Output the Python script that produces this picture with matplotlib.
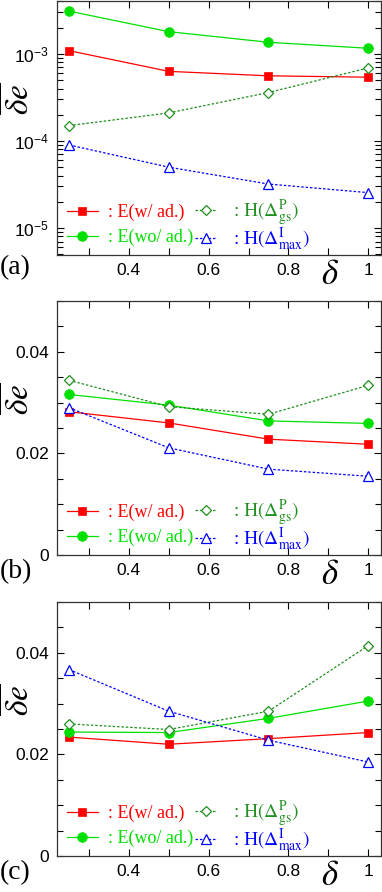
import matplotlib
matplotlib.use("Agg")
import matplotlib.pyplot as plt
from matplotlib.ticker import FixedLocator, MultipleLocator, LogLocator, NullFormatter

# =====================================================
# DATA
# =====================================================

delta = [0.25, 0.5, 0.75, 1.0]

# (a) log scale
a_e_ad = [1.09e-3, 6.3e-4, 5.6e-4, 5.4e-4]
a_e_woad = [3.1e-3, 1.8e-3, 1.36e-3, 1.16e-3]
a_h_gs = [1.5e-4, 2.1e-4, 3.6e-4, 6.9e-4]
a_h_max = [9.0e-5, 5.0e-5, 3.2e-5, 2.55e-5]

# (b)
b_e_ad = [0.0282, 0.0260, 0.0228, 0.0218]
b_e_woad = [0.0316, 0.0295, 0.0264, 0.0259]
b_h_gs = [0.0344, 0.0292, 0.0277, 0.0334]
b_h_max = [0.0290, 0.0211, 0.0169, 0.0155]

# (c)
c_e_ad = [0.0234, 0.0220, 0.0231, 0.0243]
c_e_woad = [0.0244, 0.0243, 0.0271, 0.0305]
c_h_gs = [0.0260, 0.0249, 0.0285, 0.0414]
c_h_max = [0.0367, 0.0285, 0.0228, 0.0185]

x_ticks = [0.3, 0.4, 0.5, 0.6, 0.7, 0.8, 0.9, 1.0]
x_ticklabels = ["", "0.4", "", "0.6", "", "0.8", "", "1"]

labels_e = [r": E(w/ ad.)", r": E(wo/ ad.)"]
labels_h = [r": H$(\Delta^{\rm P}_{\rm gs})$", r": H$(\Delta^{\rm I}_{\rm max})$"]

# =====================================================
# STYLE
# =====================================================

plt.rcParams["font.family"] = ["Liberation Sans", "DejaVu Sans"]
plt.rcParams["mathtext.fontset"] = "stix"

RED = "#ff0000"
GREEN = "#00e000"
DKGREEN = "#1f8f1f"
BLUE = "#0000ff"

fig = plt.figure(figsize=(3.82, 8.92), dpi=100)

W = 324 / 382
L = 57 / 382
H = 254 / 892
ax_a = fig.add_axes([L, 1 - 255 / 892, W, H])
ax_b = fig.add_axes([L, 1 - 555 / 892, W, H])
ax_c = fig.add_axes([L, 1 - 856 / 892, W, H])

E_FONT = {"family": "Liberation Serif", "size": 13}
H_FONT = {"family": "Liberation Serif", "size": 14}


def draw(ax, e_ad, e_woad, h_gs, h_max):
    l1, = ax.plot(delta, e_ad, "-", color=RED, lw=0.9, marker="s", ms=6,
                  mfc=RED, mec=RED, mew=0.5)
    l2, = ax.plot(delta, e_woad, "-", color=GREEN, lw=0.9, marker="o", ms=7,
                  mfc=GREEN, mec=GREEN, mew=0.5)
    l3, = ax.plot(delta, h_gs, color=DKGREEN, lw=0.9, ls=(0, (2, 1.5)),
                  marker="D", ms=5, mfc="white", mec=DKGREEN, mew=0.9)
    l4, = ax.plot(delta, h_max, color=BLUE, lw=0.9, ls=(0, (2, 1.5)),
                  marker="^", ms=6.5, mfc="white", mec=BLUE, mew=0.9)

    ax.set_xlim(0.22, 1.032)
    ax.xaxis.set_major_locator(FixedLocator(x_ticks))
    ax.set_xticklabels(x_ticklabels)
    ax.tick_params(axis="both", which="both", direction="in",
                   top=True, right=True, labelsize=12.5, pad=6)
    ax.tick_params(which="major", length=5, width=0.8)
    ax.tick_params(which="minor", length=4, width=0.8)
    for sp in ax.spines.values():
        sp.set_linewidth(0.9)
        sp.set_color("#333333")

    # legend: two separate columns so the rows line up
    leg1 = ax.legend([l1, l2], labels_e, loc="center left", frameon=False,
                     prop=E_FONT, labelcolor="linecolor",
                     handlelength=1.7, handletextpad=0.55, labelspacing=0.45,
                     borderpad=0.0, borderaxespad=0.0,
                     bbox_to_anchor=(0.031, 0.118))
    ax.add_artist(leg1)
    ax.legend([l3, l4], labels_h, loc="center left", frameon=False,
              prop=H_FONT, labelcolor="linecolor",
              handlelength=1.15, handletextpad=0.8, labelspacing=-0.12,
              borderpad=0.0, borderaxespad=0.0,
              bbox_to_anchor=(0.426, 0.118))

    ax.text(0.843, -0.078, r"$\delta$", transform=ax.transAxes,
            fontsize=25, ha="center", va="center")
    ax.text(-0.172, 0.614, r"$\overline{\delta e}$", transform=ax.transAxes,
            fontsize=24, ha="left", va="center", rotation=90)


# =====================================================
# PANEL (a)
# =====================================================

draw(ax_a, a_e_ad, a_e_woad, a_h_gs, a_h_max)
ax_a.set_yscale("log")
ax_a.set_ylim(4.9e-6, 4.05e-3)
ax_a.yaxis.set_major_locator(LogLocator(base=10, numticks=10))
ax_a.yaxis.set_minor_locator(LogLocator(base=10, subs=range(2, 10), numticks=10))
ax_a.yaxis.set_minor_formatter(NullFormatter())

# =====================================================
# PANELS (b), (c)
# =====================================================

draw(ax_b, b_e_ad, b_e_woad, b_h_gs, b_h_max)
draw(ax_c, c_e_ad, c_e_woad, c_h_gs, c_h_max)
for ax in (ax_b, ax_c):
    ax.set_ylim(0, 0.05)
    ax.yaxis.set_major_locator(FixedLocator([0, 0.02, 0.04]))
    ax.set_yticklabels(["0", "0.02", "0.04"])
    ax.yaxis.set_minor_locator(MultipleLocator(0.005))

# panel tags
for tag, yc in [("(a)", 268), ("(b)", 572), ("(c)", 873)]:
    fig.text(0.0, 1 - yc / 892, tag, fontsize=20, family="Liberation Serif",
             ha="left", va="center")

fig.savefig("out.png", dpi=100)
